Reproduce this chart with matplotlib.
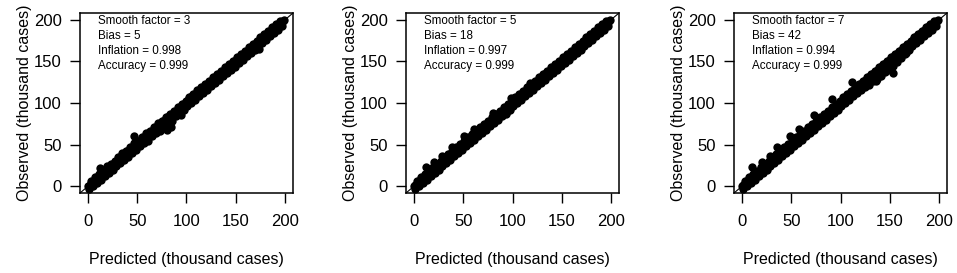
import matplotlib
matplotlib.use("Agg")
import matplotlib.pyplot as plt

plt.rcParams['font.family'] = ['Liberation Sans', 'DejaVu Sans']

# ---------------- data (thousand cases) ----------------
smooth_factors = [3, 5, 7]
biases = [5, 18, 42]
inflations = ["0.998", "0.997", "0.994"]
accuracies = ["0.999", "0.999", "0.999"]

# Panel 1
pred1 = [0, 1, 2, 3, 4, 5, 6, 7, 8, 10, 12, 14, 16, 18, 20, 22, 24, 26, 28, 30, 32, 34, 36, 38, 40,
         42, 44, 46, 48, 50, 52, 54, 56, 58, 60, 62, 64, 66, 68, 70, 72, 74, 76, 78, 80, 82, 84, 86,
         88, 90, 92, 94, 96, 98, 100, 102, 104, 106, 108, 110, 112, 114, 116, 118, 120, 122, 124,
         126, 128, 130, 132, 134, 136, 138, 140, 142, 144, 146, 148, 150, 152, 154, 156, 158, 160,
         162, 164, 166, 168, 170, 172, 174, 176, 178, 180, 182, 184, 186, 188, 190, 192, 194, 196,
         198, 199,
         1, 5, 9, 13, 17, 21, 25, 29, 33, 37, 41, 45, 49, 53, 57, 61, 65, 69, 73, 77, 81, 85, 89,
         93, 97, 101, 105, 109, 113, 117, 121, 125, 129, 133, 137, 141, 145, 149, 153, 157, 161,
         165, 169, 173, 177, 181, 185, 189, 193, 197,
         3, 7, 11, 15, 19, 23, 27, 31, 35, 39, 43, 47, 51, 55, 59, 63, 67, 71, 75, 79, 83, 87, 91,
         95, 99, 103, 107, 111, 115, 119, 123, 127, 131, 135, 139, 143, 147, 151, 155, 159, 163,
         167, 171, 175, 179, 183, 187, 191, 195,
         12, 47, 80, 84, 94, 148, 174, 170, 156]
obs1 = [0, 1, 1, 4, 3, 5, 5, 8, 7, 9, 13, 12, 17, 16, 21, 21, 26, 25, 29, 29, 33, 32, 37, 36, 42,
        41, 45, 47, 49, 50, 54, 53, 57, 59, 62, 61, 65, 67, 70, 69, 74, 75, 78, 77, 80, 84, 83, 87,
        88, 91, 93, 95, 96, 99, 101, 104, 103, 108, 110, 111, 113, 116, 118, 119, 122, 123, 125,
        126, 130, 131, 134, 135, 137, 139, 141, 143, 146, 147, 149, 152, 154, 155, 157, 159, 161,
        163, 165, 166, 169, 171, 173, 175, 178, 179, 181, 182, 185, 186, 189, 191, 192, 195, 197,
        198, 200,
        -3, 0, 4, 8, 12, 16, 20, 24, 28, 32, 35, 40, 44, 48, 52, 55, 60, 64, 67, 72, 76, 79, 84,
        88, 92, 96, 100, 104, 108, 112, 116, 120, 124, 128, 132, 136, 140, 143, 148, 152, 156,
        160, 164, 168, 172, 176, 180, 184, 188, 193,
        6, 11, 15, 19, 24, 27, 31, 35, 40, 43, 47, 52, 55, 59, 64, 67, 71, 76, 79, 83, 87, 91, 95,
        99, 103, 107, 111, 116, 119, 123, 127, 131, 135, 139, 143, 147, 151, 155, 159, 163, 167,
        171, 175, 179, 183, 187, 191, 195, 198,
        22, 60, 68, 71, 86, 144, 165, 168, 158]

# Panel 2
pred2 = [0, 1, 2, 3, 4, 5, 6, 7, 8, 10, 12, 14, 16, 18, 20, 22, 24, 26, 28, 30, 32, 34, 36, 38, 40,
         42, 44, 46, 48, 50, 52, 54, 56, 58, 60, 62, 64, 66, 68, 70, 72, 74, 76, 78, 80, 82, 84, 86,
         88, 90, 92, 94, 96, 98, 100, 102, 104, 106, 108, 110, 112, 114, 116, 118, 120, 122, 124,
         126, 128, 130, 132, 134, 136, 138, 140, 142, 144, 146, 148, 150, 152, 154, 156, 158, 160,
         162, 164, 166, 168, 170, 172, 174, 176, 178, 180, 182, 184, 186, 188, 190, 192, 194, 196,
         198, 199,
         1, 5, 9, 13, 17, 21, 25, 29, 33, 37, 41, 45, 49, 53, 57, 61, 65, 69, 73, 77, 81, 85, 89,
         93, 97, 101, 105, 109, 113, 117, 121, 125, 129, 133, 137, 141, 145, 149, 153, 157, 161,
         165, 169, 173, 177, 181, 185, 189, 193, 197,
         3, 7, 11, 15, 19, 23, 27, 31, 35, 39, 43, 47, 51, 55, 59, 63, 67, 71, 75, 79, 83, 87, 91,
         95, 99, 103, 107, 111, 115, 119, 123, 127, 131, 135, 139, 143, 147, 151, 155, 159, 163,
         167, 171, 175, 179, 183, 187, 191, 195,
         12, 20, 29, 39, 51, 61, 80, 93, 98, 118, 134, 191]
obs2 = [0, 2, 2, 3, 5, 6, 6, 8, 9, 11, 12, 15, 16, 19, 20, 23, 25, 26, 29, 31, 33, 34, 37, 38, 41,
        43, 44, 47, 49, 51, 53, 54, 57, 59, 61, 63, 64, 67, 69, 71, 73, 74, 77, 79, 81, 82, 85, 86,
        89, 91, 93, 94, 97, 99, 102, 103, 105, 107, 109, 111, 113, 115, 117, 119, 121, 123, 125,
        127, 129, 131, 133, 135, 137, 139, 140, 143, 145, 146, 149, 151, 153, 154, 157, 159, 161,
        162, 165, 167, 168, 171, 173, 174, 177, 178, 181, 183, 184, 187, 188, 191, 193, 194, 197,
        198, 200,
        -3, 0, 4, 8, 12, 16, 20, 24, 28, 32, 36, 40, 44, 48, 52, 56, 60, 64, 68, 72, 76, 80, 84,
        88, 92, 96, 100, 104, 108, 112, 116, 120, 124, 128, 132, 136, 140, 144, 148, 152, 156,
        160, 164, 168, 172, 176, 180, 184, 188, 193,
        7, 11, 15, 19, 23, 27, 31, 35, 39, 43, 47, 51, 55, 59, 63, 67, 71, 75, 79, 83, 87, 91, 95,
        99, 103, 107, 111, 115, 119, 123, 127, 131, 135, 139, 143, 147, 151, 155, 159, 163, 167,
        171, 175, 179, 183, 187, 191, 195, 198,
        23, 29, 37, 47, 61, 69, 88, 87, 106, 124, 136, 189]

# Panel 3
pred3 = [0, 1, 2, 3, 4, 5, 6, 7, 8, 10, 12, 14, 16, 18, 20, 22, 24, 26, 28, 30, 32, 34, 36, 38, 40,
         42, 44, 46, 48, 50, 52, 54, 56, 58, 60, 62, 64, 66, 68, 70, 72, 74, 76, 78, 80, 82, 84, 86,
         88, 90, 92, 94, 96, 98, 100, 102, 104, 106, 108, 110, 112, 114, 116, 118, 120, 122, 124,
         126, 128, 130, 132, 134, 136, 138, 140, 142, 144, 146, 148, 150, 152, 154, 156, 158, 160,
         162, 164, 166, 168, 170, 172, 174, 176, 178, 180, 182, 184, 186, 188, 190, 192, 194, 196,
         198, 199,
         1, 5, 9, 13, 17, 21, 25, 29, 33, 37, 41, 45, 49, 53, 57, 61, 65, 69, 73, 77, 81, 85, 89,
         93, 97, 101, 105, 109, 113, 117, 121, 125, 129, 133, 137, 141, 145, 149, 153, 157, 161,
         165, 169, 173, 177, 181, 185, 189, 193, 197,
         3, 7, 11, 15, 19, 23, 27, 31, 35, 39, 43, 47, 51, 55, 59, 63, 67, 71, 75, 79, 83, 87, 91,
         95, 99, 103, 107, 111, 115, 119, 123, 127, 131, 135, 139, 143, 147, 151, 155, 159, 163,
         167, 171, 175, 179, 183, 187, 191, 195,
         10, 20, 29, 36, 49, 58, 73, 91, 112, 136, 146, 153, 128, 160, 166]
obs3 = [0, 2, 2, 4, 5, 6, 7, 8, 9, 11, 13, 15, 17, 19, 21, 23, 25, 27, 29, 31, 33, 35, 37, 39, 41,
        43, 45, 47, 49, 51, 53, 55, 57, 59, 61, 63, 65, 67, 69, 71, 73, 75, 77, 79, 81, 83, 85, 87,
        89, 91, 93, 95, 97, 99, 101, 103, 105, 107, 109, 111, 114, 116, 118, 120, 122, 124, 126,
        128, 130, 132, 134, 136, 138, 140, 142, 144, 146, 148, 150, 152, 154, 156, 158, 160, 162,
        164, 166, 168, 170, 172, 174, 176, 178, 180, 182, 184, 186, 188, 190, 192, 193, 195, 197,
        199, 200,
        -3, 0, 4, 8, 12, 16, 20, 24, 28, 32, 36, 40, 44, 48, 52, 56, 60, 64, 68, 72, 76, 80, 84,
        88, 92, 96, 100, 104, 108, 112, 116, 119, 122, 126, 129, 133, 137, 141, 145, 149, 154,
        159, 164, 168, 172, 176, 180, 184, 188, 193,
        7, 11, 15, 19, 23, 27, 31, 35, 39, 43, 47, 51, 55, 59, 63, 67, 71, 75, 79, 83, 87, 91, 95,
        99, 103, 107, 111, 115, 119, 123, 127, 131, 135, 139, 143, 147, 151, 155, 159, 163, 167,
        171, 175, 179, 183, 187, 191, 195, 198,
        23, 29, 37, 47, 61, 69, 86, 105, 125, 126, 138, 136, 125, 155, 160]

preds = [pred1, pred2, pred3]
obss = [obs1, obs2, obs3]

ticks = [0, 50, 100, 150, 200]
lims = (-8, 208)

# ---------------- figure ----------------
fig = plt.figure(figsize=(9.57, 2.73), dpi=100)
lefts_px = [80, 406, 734]
W, H = 957, 273
aw, ah = 213 / W, 180 / H
bottom = 1 - 193 / H

for i in range(3):
    ax = fig.add_axes([lefts_px[i] / W, bottom, aw, ah])
    ax.plot(lims, lims, color='black', lw=0.8, zorder=1)
    ax.plot(preds[i], obss[i], 'o', color='black', ms=6, mew=0, zorder=2)
    ax.set_xlim(lims)
    ax.set_ylim(lims)
    ax.set_xticks(ticks)
    ax.set_yticks(ticks)
    ax.tick_params(direction='out', length=7, width=1, labelsize=12)
    ax.tick_params(axis='x', pad=8)
    ax.tick_params(axis='y', pad=6)
    for s in ax.spines.values():
        s.set_linewidth(1.1)
    ax.set_xlabel('Predicted (thousand cases)', fontsize=11.5)
    ax.set_ylabel('Observed (thousand cases)', fontsize=11.5)
    ax.xaxis.set_label_coords(0.5, -0.33)
    ax.yaxis.set_label_coords(-0.225, 0.5)
    lines = [f"Smooth factor = {smooth_factors[i]}",
             f"Bias = {biases[i]}",
             f"Inflation = {inflations[i]}",
             f"Accuracy = {accuracies[i]}"]
    for k, t in enumerate(lines):
        ax.text(0.085, 0.955 - k * 0.083, t, transform=ax.transAxes,
                fontsize=8.4, ha='left', va='center')

fig.savefig('out.png', dpi=100)
